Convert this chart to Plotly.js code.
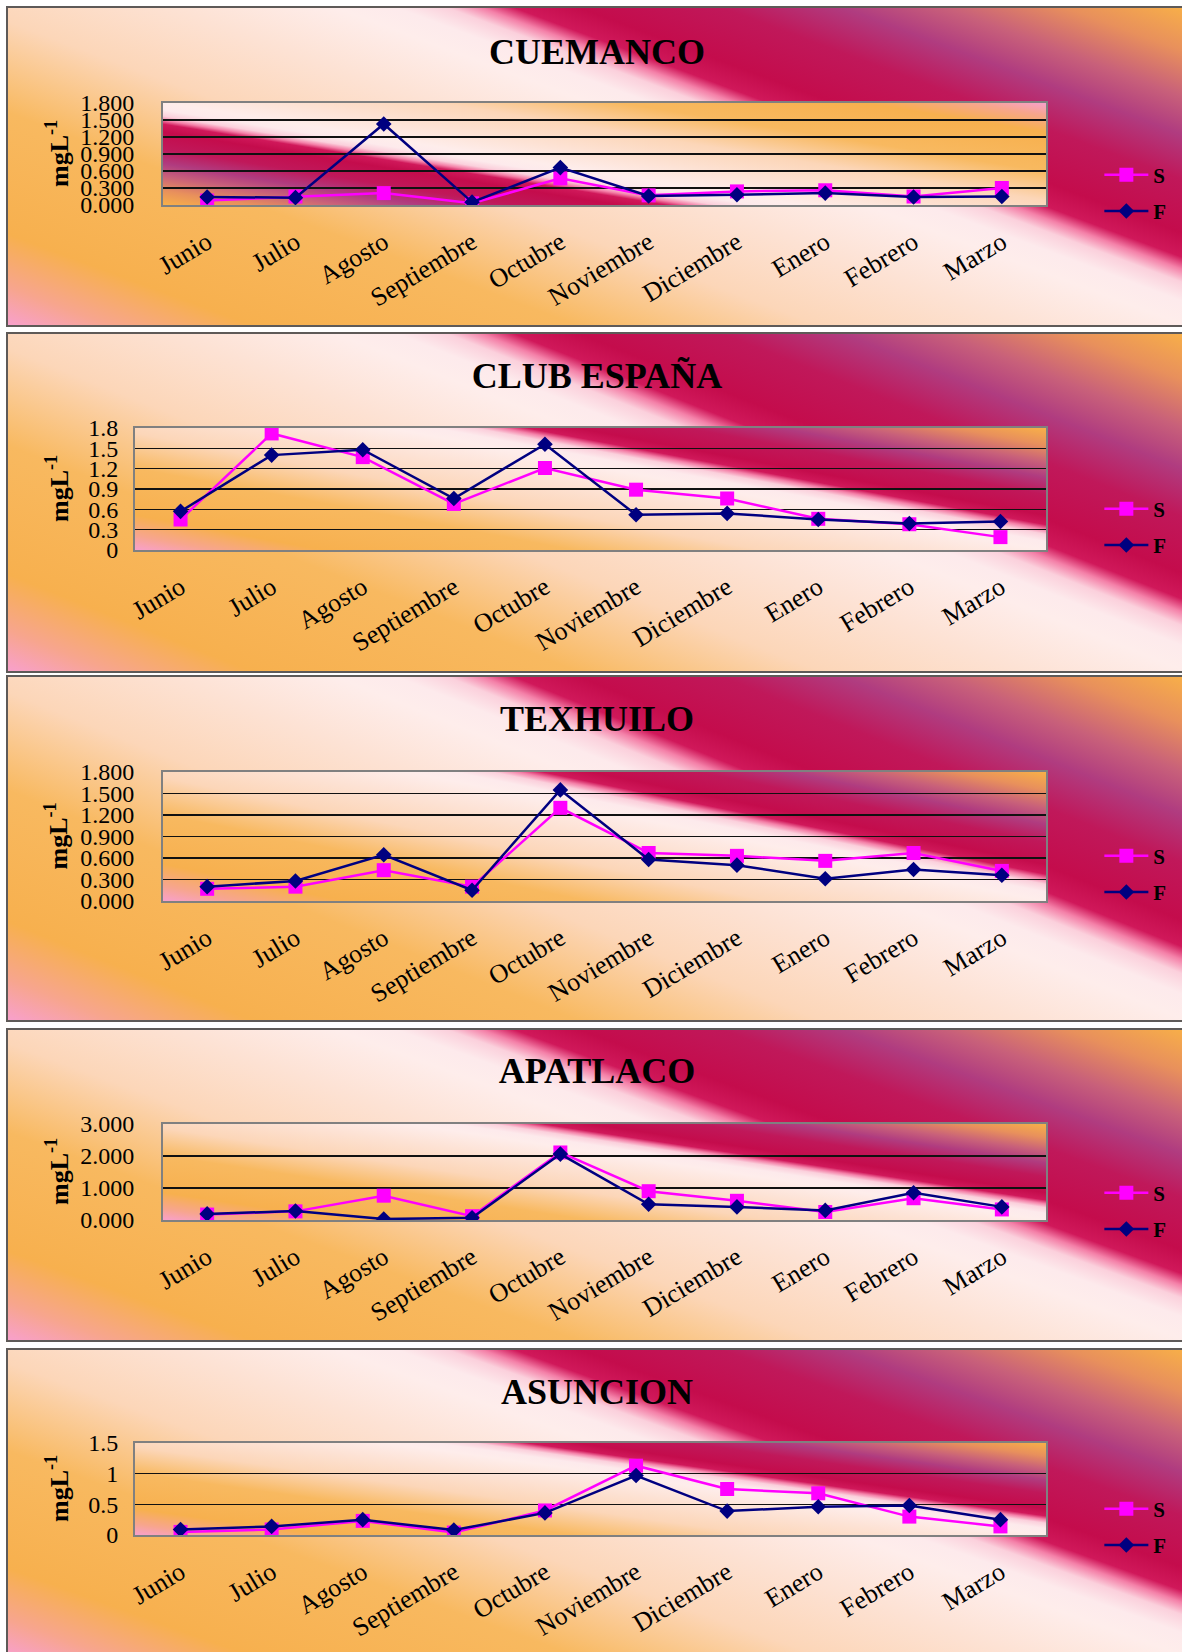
<!DOCTYPE html>
<html>
<head>
<meta charset="utf-8">
<script src="https://cdn.plot.ly/plotly-3.0.1.min.js"></script>
<style>
  html, body { margin: 0; padding: 0; background: #ffffff; }
  body { width: 1182px; height: 1652px; overflow: hidden; position: relative; }
  .panel { position: absolute; left: 6px; width: 1182px; box-sizing: border-box;
           border: 2px solid #5e5a58; border-right: none; background-size: 100% 100%; background-repeat: no-repeat; }
  .chart { position: absolute; left: -2px; top: -2px; }
</style>
</head>
<body>
<div id="p0" class="panel"><div id="c0" class="chart"></div></div>
<div id="p1" class="panel"><div id="c1" class="chart"></div></div>
<div id="p2" class="panel"><div id="c2" class="chart"></div></div>
<div id="p3" class="panel"><div id="c3" class="chart"></div></div>
<div id="p4" class="panel"><div id="c4" class="chart"></div></div>
<script>
// Months of sampling
const months = ['Junio', 'Julio', 'Agosto', 'Septiembre', 'Octubre', 'Noviembre', 'Diciembre', 'Enero', 'Febrero', 'Marzo'];

// Station names
const stations = ['CUEMANCO', 'CLUB ESPAÑA', 'TEXHUILO', 'APATLACO', 'ASUNCION'];

// Series names
const seriesNames = ['S', 'F'];

// Concentrations (mg/L) per station
const cuemancoS   = [0.08, 0.15, 0.21, 0.03, 0.47, 0.17, 0.24, 0.26, 0.15, 0.30];
const cuemancoF   = [0.14, 0.13, 1.43, 0.05, 0.66, 0.16, 0.18, 0.21, 0.14, 0.15];
const clubEspanaS = [0.45, 1.72, 1.37, 0.68, 1.21, 0.89, 0.76, 0.46, 0.38, 0.19];
const clubEspanaF = [0.57, 1.40, 1.48, 0.76, 1.56, 0.52, 0.54, 0.45, 0.39, 0.42];
const texhuiloS   = [0.17, 0.20, 0.43, 0.20, 1.30, 0.67, 0.63, 0.56, 0.67, 0.42];
const texhuiloF   = [0.20, 0.28, 0.645, 0.15, 1.55, 0.58, 0.50, 0.31, 0.44, 0.36];
const apatlacoS   = [0.17, 0.27, 0.76, 0.12, 2.11, 0.90, 0.60, 0.25, 0.68, 0.33];
const apatlacoF   = [0.19, 0.28, 0.03, 0.07, 2.06, 0.49, 0.41, 0.30, 0.85, 0.41];
const asuncionS   = [0.05, 0.09, 0.23, 0.04, 0.40, 1.13, 0.75, 0.68, 0.30, 0.14];
const asuncionF   = [0.09, 0.14, 0.25, 0.08, 0.36, 0.97, 0.39, 0.46, 0.48, 0.25];

// Y axis scales per station
const yMax   = [1.8, 1.8, 1.8, 3, 1.5];
const yDtick = [0.3, 0.3, 0.3, 1, 0.5];
const yFormat = ['.3f', '', '.3f', '.3f', ''];

const seriesS = [cuemancoS, clubEspanaS, texhuiloS, apatlacoS, asuncionS];
const seriesF = [cuemancoF, clubEspanaF, texhuiloF, apatlacoF, asuncionF];

// Panel geometry (page pixels)
const panelTop    = [6, 332, 675, 1028, 1348];
const panelHeight = [321, 341, 347, 314, 310];
const plotLeft    = [163, 135, 163, 163, 135];
const plotRight   = 1046;
const plotTop     = [103, 428, 772, 1124, 1443];
const plotBottom  = [205, 550, 901, 1220, 1535];
const legendMid   = [187, 195, 199, 183, 179];
const titleMid    = [45, 43, 43, 42, 43];
const yLabelGap   = [22, 10, 22, 22, 10];
const panelWidth  = 1182;

// Sunset-style gradient used for panel and plot-area fills
const gradStops = [
  [0.00, '#f8a0cc'], [0.05, '#f7a58e'], [0.12, '#f7b04e'], [0.28, '#f8b960'],
  [0.40, '#fcd6b8'], [0.50, '#fde2d4'], [0.58, '#feedeb'], [0.61, '#fdeaec'],
  [0.635, '#fbd0dc'], [0.652, '#f480a8'], [0.668, '#d0185a'], [0.70, '#c40c4c'],
  [0.77, '#c0185a'], [0.83, '#b03c80'], [0.88, '#c8607a'], [0.94, '#e8905c'],
  [1.00, '#f8b048']
];

function gradientURI(flipped) {
  const c = flipped ? [1, 0, -0.1336, 0.8153] : [0, 1, 1.1336, 0.1847];
  const stops = gradStops.map(s => `<stop offset='${s[0]}' stop-color='${s[1]}'/>`).join('');
  const svg = `<svg xmlns='http://www.w3.org/2000/svg' width='200' height='100' viewBox='0 0 1 1' preserveAspectRatio='none'>` +
    `<defs><linearGradient id='g' x1='${c[0]}' y1='${c[1]}' x2='${c[2]}' y2='${c[3]}'>${stops}</linearGradient></defs>` +
    `<rect x='0' y='0' width='1' height='1' fill='url(#g)'/></svg>`;
  return 'data:image/svg+xml;charset=utf-8,' + encodeURIComponent(svg);
}

const serif = 'Liberation Serif, Times New Roman, serif';

for (let i = 0; i < stations.length; i++) {
  const panel = document.getElementById('p' + i);
  panel.style.top = panelTop[i] + 'px';
  panel.style.height = panelHeight[i] + 'px';
  panel.style.backgroundImage = `url("${gradientURI(false)}")`;

  const ox = 6, oy = panelTop[i];
  const m = {
    l: plotLeft[i] - ox,
    r: panelWidth - (plotRight - ox),
    t: plotTop[i] - oy,
    b: panelHeight[i] - (plotBottom[i] - oy),
    pad: 0
  };
  const plotW = plotRight - plotLeft[i];

  const traces = [
    {
      x: months, y: seriesS[i], name: seriesNames[0], type: 'scatter', mode: 'lines+markers',
      legendgroup: 's',
      line: { color: '#ff00ff', width: 2.5 },
      marker: { symbol: 'square', size: 14, color: '#ff00ff' }
    },
    {
      x: months, y: seriesF[i], name: seriesNames[1], type: 'scatter', mode: 'lines+markers',
      legendgroup: 'f',
      line: { color: '#000080', width: 2.5 },
      marker: { symbol: 'diamond', size: 12, color: '#000080' }
    }
  ];

  const layout = {
    width: panelWidth,
    height: panelHeight[i],
    margin: m,
    paper_bgcolor: 'rgba(0,0,0,0)',
    plot_bgcolor: 'rgba(0,0,0,0)',
    font: { family: serif, color: '#000000' },
    title: {
      text: '<b>' + stations[i] + '</b>',
      font: { family: serif, size: 36, color: '#000000' },
      xref: 'container', x: 0.5, xanchor: 'center',
      yref: 'container', y: 1 - titleMid[i] / panelHeight[i], yanchor: 'middle'
    },
    showlegend: true,
    legend: {
      xref: 'container', x: 0.925, xanchor: 'left',
      yref: 'container', y: 1 - legendMid[i] / panelHeight[i], yanchor: 'middle',
      bgcolor: 'rgba(0,0,0,0)', borderwidth: 0,
      font: { family: serif, size: 21, color: '#000000', weight: 'bold' },
      tracegroupgap: 6,
      itemwidth: 44
    },
    xaxis: {
      type: 'category',
      range: [-0.5, months.length - 0.5],
      tickangle: -31,
      tickfont: { family: serif, size: 26, color: '#000000' },
      ticks: '',
      ticklabelstandoff: 10,
      showgrid: false,
      zeroline: false,
      showline: true, mirror: true, linecolor: '#808080', linewidth: 2,
      fixedrange: true
    },
    yaxis: {
      range: [0, yMax[i]],
      tick0: 0, dtick: yDtick[i],
      tickformat: yFormat[i],
      tickfont: { family: serif, size: 24, color: '#000000' },
      ticks: '',
      ticklabelstandoff: yLabelGap[i],
      showgrid: true, gridcolor: '#111111', gridwidth: 1.2,
      zeroline: false,
      showline: true, mirror: true, linecolor: '#808080', linewidth: 2,
      fixedrange: true
    },
    images: [{
      source: gradientURI(i === 0),
      xref: 'paper', yref: 'paper', x: 0, y: 1, sizex: 1, sizey: 1,
      xanchor: 'left', yanchor: 'top', sizing: 'stretch', layer: 'below'
    }],
    annotations: [{
      text: '<b>mgL<sup>-1</sup></b>',
      xref: 'paper', yref: 'paper',
      x: (51 - m.l) / plotW, y: 0.5,
      xanchor: 'center', yanchor: 'middle',
      textangle: -90, showarrow: false,
      font: { family: serif, size: 26, color: '#000000' }
    }]
  };

  Plotly.newPlot('c' + i, traces, layout, { displayModeBar: false, staticPlot: true });
}
</script>
</body>
</html>
